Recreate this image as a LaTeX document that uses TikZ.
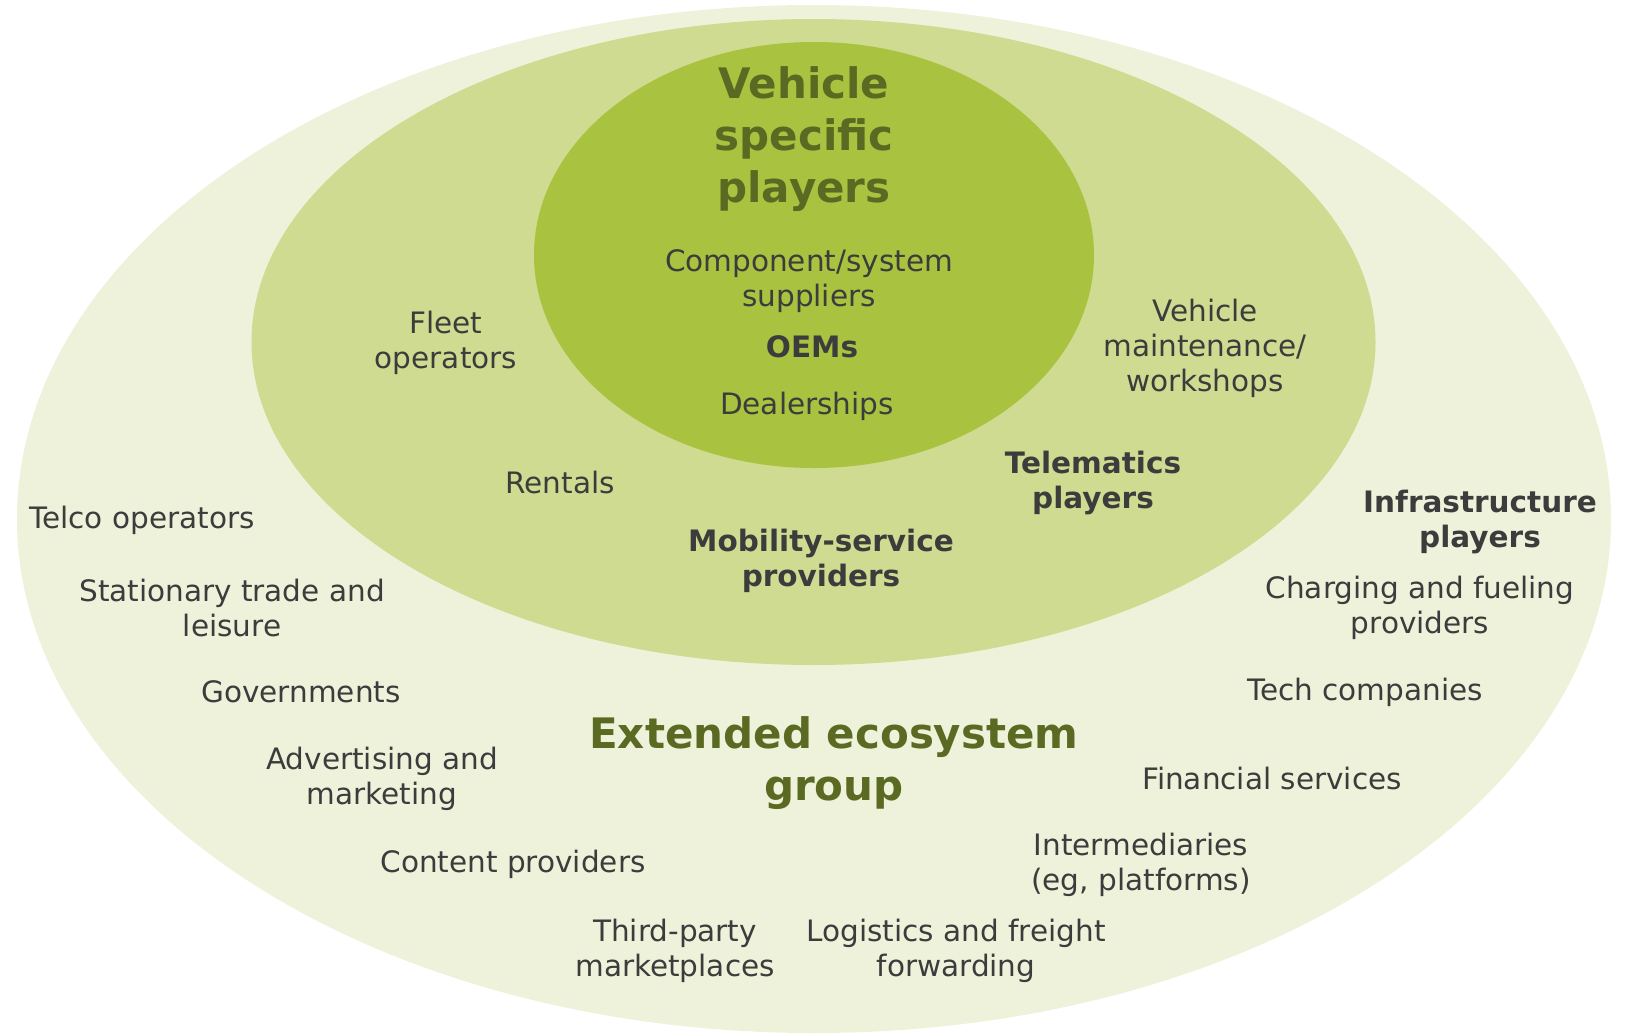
\documentclass[tikz,border=0pt]{standalone}
\usepackage{fontspec}
\setmainfont{DejaVu Sans}
\usepackage{tikz}
\usetikzlibrary{positioning}

\definecolor{outerring}{HTML}{EEF2DA}
\definecolor{midring}{HTML}{CEDB90}
\definecolor{innerring}{HTML}{A9C23F}
\definecolor{titlegreen}{HTML}{5B6A22}
\definecolor{textgrey}{HTML}{3C3C3C}

\begin{document}
\begin{tikzpicture}[x=1pt,y=-1pt,
    lbl/.style={align=center,text=textgrey,inner sep=0pt,
        font=\fontsize{29.5}{35}\selectfont},
    lblb/.style={lbl,font=\fontsize{29.5}{35}\selectfont\bfseries},
    title/.style={align=center,text=titlegreen,inner sep=0pt,
        font=\fontsize{42}{52}\selectfont\bfseries}]
    \useasboundingbox (0,0) rectangle (1626,1034);

    % rings
    \fill[outerring] (814,519) ellipse [x radius=797, y radius=514];
    \fill[midring] (813.5,342) ellipse [x radius=562, y radius=323];
    \fill[innerring] (814,255) ellipse [x radius=280, y radius=213];

    % vehicle specific players
    \node[title] (vsp) at (804,139) {Vehicle\\specific\\players};
    \node[lbl] (comp) at (809,281) {Component/system\\suppliers};
    \node[lblb] (oem) at (812,347) {OEMs};
    \node[lbl] (deal) at (807,406) {Dealerships};

    % middle ring
    \node[lbl] (fleet) at (446,343) {Fleet\\operators};
    \node[lbl] (maint) at (1205,348) {Vehicle\\maintenance/\\workshops};
    \node[lbl] (rent) at (560,482) {Rentals};
    \node[lblb] (tele) at (1093,483) {Telematics\\players};
    \node[lblb] (mob) at (821,561) {Mobility-service\\providers};

    % extended ecosystem
    \node[title] (ext) at (834,763) {Extended ecosystem\\group};
    \node[lblb] (infra) at (1480,522) {Infrastructure\\players};
    \node[lbl] (charge) at (1420,608) {Charging and fueling\\providers};
    \node[lbl] (tech) at (1365,692) {Tech companies};
    \node[lbl] (fin) at (1272,778) {Financial services};
    \node[lbl] (inter) at (1141,865) {Intermediaries\\(eg, platforms)};
    \node[lbl] (logi) at (956,951) {Logistics and freight\\forwarding};
    \node[lbl] (third) at (675,951) {Third-party\\marketplaces};
    \node[lbl] (content) at (513,864) {Content providers};
    \node[lbl] (adv) at (382,779) {Advertising and\\marketing};
    \node[lbl] (gov) at (301,692) {Governments};
    \node[lbl] (stat) at (232,608) {Stationary trade and\\leisure};
    \node[lbl] (telco) at (142,520) {Telco operators};

\end{tikzpicture}
\end{document}
